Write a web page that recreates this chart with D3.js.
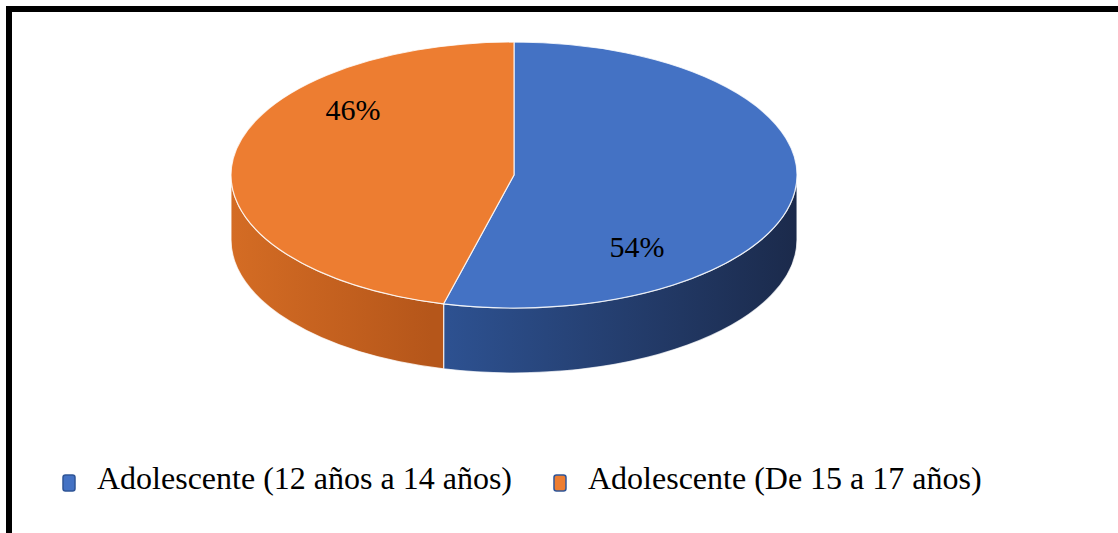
<!DOCTYPE html>
<html>
  <head>
    <meta charset="utf-8">
    <title></title>
    <script src="https://d3js.org/d3.v7.min.js"></script>
  </head>
  <style>
    body { margin: 0; background: #fff; }
    svg { display: block; }
  </style>
  <body>
  <svg width="1118" height="533"></svg>
  <script>

  // chart data
  var categories = ["Adolescente (12 años a 14 años)", "Adolescente (De 15 a 17 años)"];
  var values = [54, 46];
  var labels = ["54%", "46%"];

  var topColors = ["#4472C4", "#ED7D31"];
  var sideStops = [["#2E5394", "#1B2A4B"], ["#D46C24", "#B5561A"]];
  var serif = "'Liberation Serif', 'Times New Roman', serif";

  var svg = d3.select("svg");

  // frame (top and left edge only)
  svg.append("rect").attr("x", 6).attr("y", 6).attr("width", 1112).attr("height", 6).attr("fill", "#000");
  svg.append("rect").attr("x", 6).attr("y", 6).attr("width", 6).attr("height", 527).attr("fill", "#000");

  // ellipse geometry of the 3d pie
  var cx = 514, cy = 175, rx = 283, ry = 133, depth = 65;

  var pie = d3.pie().sort(null).value(function(d) { return d; });
  var arcs = pie(values);

  function topPt(a) { return [cx + rx * Math.sin(a), cy - ry * Math.cos(a)]; }
  function botPt(a) { return [cx + rx * Math.sin(a), cy - ry * Math.cos(a) + depth]; }

  var defs = svg.append("defs");
  sideStops.forEach(function(s, i) {
    var g = defs.append("linearGradient").attr("id", "side" + i)
      .attr("gradientUnits", "userSpaceOnUse")
      .attr("x1", i === 0 ? 430 : cx - rx).attr("x2", i === 0 ? cx + rx : 432)
      .attr("y1", 0).attr("y2", 0);
    g.append("stop").attr("offset", "0%").attr("stop-color", s[0]);
    g.append("stop").attr("offset", "100%").attr("stop-color", s[1]);
  });

  var pieG = svg.append("g");

  // side walls: only the part facing the viewer (angles between 90 and 270 deg)
  arcs.forEach(function(d, i) {
    var a1 = Math.max(d.startAngle, Math.PI / 2);
    var a2 = Math.min(d.endAngle, Math.PI * 1.5);
    if (a2 <= a1) return;
    var p1 = topPt(a1), p2 = topPt(a2), b2 = botPt(a2), b1 = botPt(a1);
    var large = (a2 - a1) > Math.PI ? 1 : 0;
    var path = "M" + p1 + " A" + rx + "," + ry + " 0 " + large + " 1 " + p2 +
               " L" + b2 + " A" + rx + "," + ry + " 0 " + large + " 0 " + b1 + " Z";
    pieG.append("path")
      .attr("d", path)
      .attr("fill", "url(#side" + i + ")")
      .attr("stroke", "rgba(255,255,255,0.75)")
      .attr("stroke-width", 1.2);
  });

  // top faces
  arcs.forEach(function(d, i) {
    var p1 = topPt(d.startAngle), p2 = topPt(d.endAngle);
    var large = (d.endAngle - d.startAngle) > Math.PI ? 1 : 0;
    var path = "M" + cx + "," + cy + " L" + p1 + " A" + rx + "," + ry + " 0 " + large + " 1 " + p2 + " Z";
    pieG.append("path")
      .attr("d", path)
      .attr("fill", topColors[i])
      .attr("stroke", "rgba(255,255,255,0.8)")
      .attr("stroke-width", 1.2)
      .attr("stroke-linejoin", "round");
  });

  // data labels, placed relative to the ellipse
  var labelPos = [[0.435, 0.54], [-0.569, -0.496]];
  pieG.selectAll("text.lbl")
    .data(labels)
    .enter()
    .append("text")
    .attr("class", "lbl")
    .attr("x", function(d, i) { return cx + labelPos[i][0] * rx; })
    .attr("y", function(d, i) { return cy + labelPos[i][1] * ry + 10.5; })
    .attr("text-anchor", "middle")
    .style("font-family", serif)
    .attr("font-size", "30px")
    .attr("fill", "#000")
    .text(function(d) { return d; });

  // legend
  var legend = svg.append("g");
  var lx = 63, ly = 489;
  categories.forEach(function(c, i) {
    legend.append("rect")
      .attr("x", lx).attr("y", ly - 14)
      .attr("width", 12).attr("height", 16)
      .attr("rx", 2.5)
      .attr("fill", topColors[i])
      .attr("stroke", "#2F5597")
      .attr("stroke-width", 1.5);
    var t = legend.append("text")
      .attr("x", lx + 34).attr("y", ly)
      .style("font-family", serif)
      .attr("font-size", "32px")
      .attr("fill", "#000")
      .text(c);
    lx = lx + 34 + t.node().getComputedTextLength() + 42;
  });

  </script>
  </body>
</html>
